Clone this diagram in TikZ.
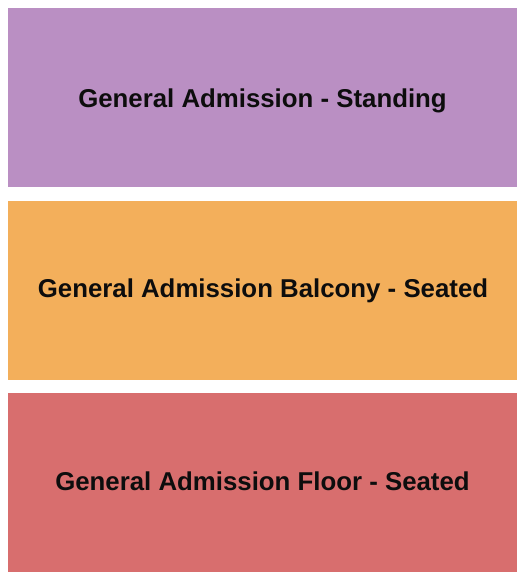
\documentclass[tikz,border=0pt]{standalone}
\usepackage{fontspec}
\setmainfont{Liberation Sans}
\definecolor{gapurple}{HTML}{BA8FC3}
\definecolor{gaorange}{HTML}{F3AF5B}
\definecolor{gared}{HTML}{D86E6E}
\tikzset{
  seclabel/.style={font=\fontsize{25.9}{30}\selectfont\bfseries, text=black!95, inner sep=0pt, anchor=base}
}
\begin{document}
\begin{tikzpicture}[x=1bp,y=-1bp]
\useasboundingbox[fill=white] (0,0) rectangle (525,580);
\fill[gapurple] (8,8) rectangle (517,186.5);
\fill[gaorange] (8,201) rectangle (517,380);
\fill[gared] (8,393) rectangle (517,572);
\node[seclabel] (standing) at (262.5,107.5) {General Admission - Standing};
\node[seclabel] (balcony) at (263,297.3) {General Admission Balcony - Seated};
\node[seclabel] (floor) at (262.5,490.7) {General Admission Floor - Seated};
\end{tikzpicture}
\end{document}
